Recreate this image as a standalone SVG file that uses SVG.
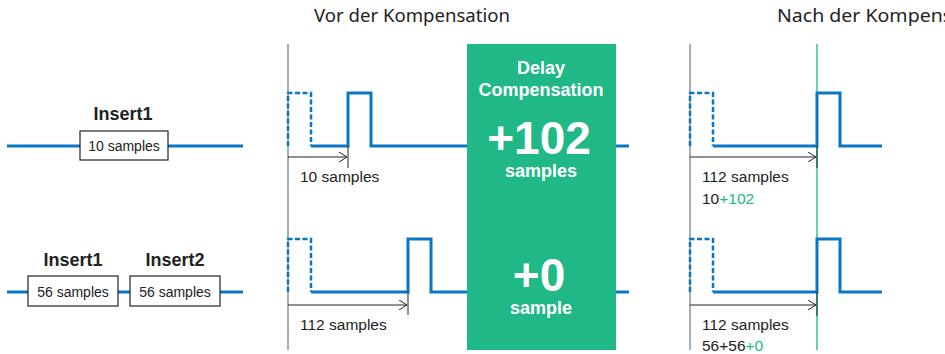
<svg xmlns="http://www.w3.org/2000/svg" width="945" height="354" viewBox="0 0 945 354">
<defs>
<style>
.sig{fill:none;stroke:#0a76c4;stroke-width:3}
.dash{fill:none;stroke:#0a76c4;stroke-width:2.5;stroke-dasharray:5 2.5}
.axis{stroke:#8c909a;stroke-width:1.5}
.gl{stroke:#2ec48f;stroke-width:1.5}
.arr{stroke:#222;stroke-width:1;fill:none}
.box{fill:#fff;stroke:#222;stroke-width:1.2}
.t{font-family:"Liberation Sans",Arial,sans-serif;fill:#222}
.b{font-family:"Liberation Sans",Arial,sans-serif;font-weight:bold;fill:#222}
.w{font-family:"Liberation Sans",Arial,sans-serif;font-weight:bold;fill:#fff;text-anchor:middle}
.h{font-family:"Noto Sans",sans-serif;font-size:17.5px;fill:#222}
.g{fill:#20b886}
</style>
<marker id="ah" viewBox="0 0 8 10" refX="8" refY="5" markerWidth="8" markerHeight="10" markerUnits="userSpaceOnUse" orient="auto">
<path d="M0,0 L8,5 L0,10" fill="none" stroke="#222" stroke-width="1"/>
</marker>
</defs>
<rect width="945" height="354" fill="#fff"/>

<g id="titles">
<text class="h" x="314" y="22" textLength="196" lengthAdjust="spacingAndGlyphs">Vor der Kompensation</text>
<text class="h" x="777" y="22" textLength="222" lengthAdjust="spacingAndGlyphs">Nach der Kompensation</text>
</g>

<g id="connectors">
<line class="sig" x1="7" y1="146" x2="80" y2="146"/>
<line class="sig" x1="168" y1="146" x2="243" y2="146"/>
<line class="sig" x1="7" y1="292" x2="28" y2="292"/>
<line class="sig" x1="118" y1="292" x2="130" y2="292"/>
<line class="sig" x1="220" y1="292" x2="243" y2="292"/>
<line class="sig" x1="616" y1="146" x2="629" y2="146"/>
<line class="sig" x1="616" y1="292" x2="629" y2="292"/>
</g>

<g id="insert-row1">
<text class="b" x="123" y="120" font-size="18" text-anchor="middle">Insert1</text>
<rect class="box" x="80" y="131" width="88" height="29"/>
<text class="t" x="124" y="151" font-size="14" text-anchor="middle">10 samples</text>
</g>
<g id="insert-row2a">
<text class="b" x="73" y="266" font-size="18" text-anchor="middle">Insert1</text>
<rect class="box" x="28" y="276" width="90" height="30"/>
<text class="t" x="73" y="297" font-size="14" text-anchor="middle">56 samples</text>
</g>
<g id="insert-row2b">
<text class="b" x="175" y="266" font-size="18" text-anchor="middle">Insert2</text>
<rect class="box" x="130" y="276" width="90" height="30"/>
<text class="t" x="175" y="297" font-size="14" text-anchor="middle">56 samples</text>
</g>

<g id="before">
<line class="axis" x1="288" y1="44" x2="288" y2="350"/>
<path class="dash" d="M288,146 V93 H311 V146"/>
<path class="sig" d="M311,146 H348 V93 H371 V146 H467"/>
<line class="arr" x1="288" y1="157" x2="347" y2="157" marker-end="url(#ah)"/>
<line class="arr" x1="348" y1="146" x2="348" y2="168"/>
<text class="t" x="300" y="182" font-size="15.5">10 samples</text>
<path class="dash" d="M288,292 V239 H311 V292"/>
<path class="sig" d="M311,292 H408 V239 H431 V292 H467"/>
<line class="arr" x1="288" y1="305" x2="407" y2="305" marker-end="url(#ah)"/>
<line class="arr" x1="408" y1="292" x2="408" y2="315"/>
<text class="t" x="300" y="330" font-size="15.5">112 samples</text>
</g>

<g id="delay-compensation">
<rect class="g" x="467" y="44" width="149" height="306"/>
<text class="w" x="541" y="74" font-size="18">Delay</text>
<text class="w" x="541" y="96" font-size="18">Compensation</text>
<text class="w" x="539" y="154" font-size="46">+102</text>
<text class="w" x="541" y="177" font-size="18">samples</text>
<text class="w" x="539" y="291" font-size="46">+0</text>
<text class="w" x="541" y="314" font-size="18">sample</text>
</g>

<g id="after">
<line class="axis" x1="690" y1="44" x2="690" y2="350"/>
<line class="gl" x1="817" y1="44" x2="817" y2="350"/>
<path class="dash" d="M690,146 V93 H713 V146"/>
<path class="sig" d="M713,146 H817 V93 H840 V146 H882"/>
<line class="arr" x1="690" y1="157" x2="816" y2="157" marker-end="url(#ah)"/>
<line class="arr" x1="817" y1="146" x2="817" y2="168"/>
<text class="t" x="702" y="182" font-size="15.5">112 samples</text>
<text class="t" x="702" y="204" font-size="15.5">10<tspan fill="#20b886">+102</tspan></text>
<path class="dash" d="M690,292 V239 H713 V292"/>
<path class="sig" d="M713,292 H817 V239 H840 V292 H882"/>
<line class="arr" x1="690" y1="305" x2="816" y2="305" marker-end="url(#ah)"/>
<line class="arr" x1="817" y1="292" x2="817" y2="316"/>
<text class="t" x="702" y="330" font-size="15.5">112 samples</text>
<text class="t" x="702" y="351" font-size="15.5">56+56<tspan fill="#20b886">+0</tspan></text>
</g>
</svg>
